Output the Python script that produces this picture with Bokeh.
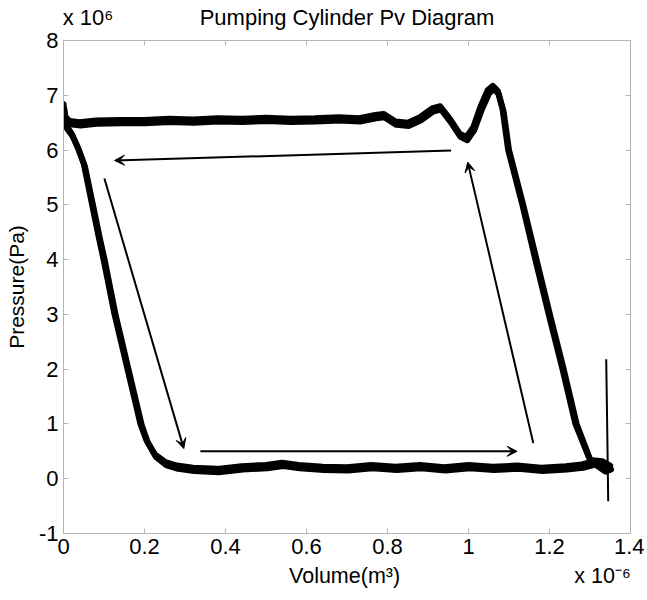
import json
from bokeh.plotting import figure
from bokeh.models import (Range1d, LinearAxis, FixedTicker, NumeralTickFormatter,
                          CustomJSTickFormatter, CustomLabelingPolicy, Arrow, VeeHead,
                          ColumnDataSource)
from bokeh.embed import file_html
from bokeh.resources import INLINE

# ---------------- data (volume in 1e-6 m^3, pressure in 1e6 Pa) ----------------
# cycle 1 (upper edge of the thick band)
V1 = [1.300, 1.264, 1.232, 1.198, 1.165, 1.133, 1.098, 1.084, 1.072, 1.060, 1.048, 1.030,
      1.012, 0.995, 0.978, 0.955, 0.930, 0.910, 0.880, 0.850, 0.820, 0.790, 0.770, 0.730,
      0.680, 0.620, 0.560, 0.500, 0.440, 0.380, 0.320, 0.260, 0.200, 0.140, 0.080, 0.040,
      0.015, 0.003, 0.000, 0.006, 0.020, 0.035, 0.050, 0.068, 0.087, 0.099, 0.126, 0.158,
      0.190, 0.205, 0.225, 0.250, 0.280, 0.320, 0.380, 0.440, 0.500, 0.540, 0.580, 0.640,
      0.700, 0.760, 0.820, 0.880, 0.940, 1.000, 1.060, 1.120, 1.180, 1.240, 1.280, 1.310,
      1.335, 1.350, 1.330, 1.300]
P1 = [0.34, 1.00, 2.00, 3.00, 4.00, 5.00, 6.00, 6.75, 7.08, 7.17, 7.10, 6.80,
      6.42, 6.24, 6.30, 6.56, 6.80, 6.76, 6.60, 6.50, 6.52, 6.66, 6.64, 6.58,
      6.60, 6.58, 6.57, 6.59, 6.57, 6.58, 6.56, 6.57, 6.55, 6.55, 6.54, 6.51,
      6.53, 6.62, 6.84, 6.46, 6.30, 6.05, 5.75, 5.10, 4.41, 4.00, 3.00, 2.00,
      1.00, 0.70, 0.45, 0.31, 0.24, 0.20, 0.18, 0.23, 0.25, 0.29, 0.25, 0.22,
      0.21, 0.25, 0.22, 0.25, 0.21, 0.25, 0.22, 0.24, 0.20, 0.23, 0.26, 0.32,
      0.20, 0.24, 0.32, 0.34]

# cycle 2 (lower edge of the thick band)
V2 = [1.303, 1.267, 1.235, 1.201, 1.168, 1.135, 1.100, 1.087, 1.075, 1.063, 1.051, 1.033,
      1.014, 0.997, 0.980, 0.957, 0.932, 0.912, 0.882, 0.852, 0.822, 0.792, 0.772, 0.732,
      0.682, 0.622, 0.562, 0.502, 0.442, 0.382, 0.322, 0.262, 0.202, 0.142, 0.082, 0.042,
      0.017, 0.005, 0.002, 0.008, 0.023, 0.038, 0.053, 0.071, 0.090, 0.102, 0.129, 0.161,
      0.193, 0.208, 0.228, 0.253, 0.283, 0.323, 0.383, 0.443, 0.503, 0.543, 0.583, 0.643,
      0.703, 0.763, 0.823, 0.883, 0.943, 1.003, 1.063, 1.123, 1.183, 1.243, 1.283, 1.313,
      1.338, 1.352, 1.333, 1.303]
P2 = [0.30, 1.00, 2.00, 3.00, 4.00, 5.00, 6.00, 6.69, 7.02, 7.11, 7.04, 6.74,
      6.36, 6.18, 6.24, 6.50, 6.74, 6.70, 6.54, 6.44, 6.46, 6.60, 6.58, 6.52,
      6.54, 6.52, 6.51, 6.53, 6.51, 6.52, 6.50, 6.51, 6.49, 6.49, 6.48, 6.45,
      6.47, 6.55, 6.75, 6.40, 6.25, 6.00, 5.70, 5.06, 4.38, 3.98, 2.98, 1.98,
      0.98, 0.66, 0.40, 0.25, 0.18, 0.14, 0.12, 0.17, 0.19, 0.23, 0.19, 0.16,
      0.15, 0.19, 0.16, 0.19, 0.15, 0.19, 0.16, 0.18, 0.14, 0.17, 0.20, 0.26,
      0.13, 0.17, 0.25, 0.30]

# thin pressure spike at the end of the stroke
V_spike = [1.340, 1.342, 1.345]
P_spike = [2.18, 1.20, -0.41]

# direction arrows of the cycle (start -> end)
arrow_x0 = [0.957, 0.101, 0.338, 1.160]
arrow_y0 = [5.99, 5.48, 0.50, 0.65]
arrow_x1 = [0.126, 0.297, 1.120, 0.998]
arrow_y1 = [5.81, 0.55, 0.50, 5.78]

x_ticks = [0, 0.2, 0.4, 0.6, 0.8, 1.0, 1.2, 1.4]
y_ticks = [-1, 0, 1, 2, 3, 4, 5, 6, 7, 8]

# texts above the frame: exponent of the y axis and the title (centre positions)
top_text_pos = [0.0605, 0.700]
top_texts = ["x 10\u2076", "Pumping Cylinder Pv Diagram"]
# texts below the tick labels: x axis title and exponent of the x axis
bottom_text_pos = [0.694, 1.331]
bottom_texts = ["Volume(m\u00b3)", "x 10\u207b\u2076"]
y_label = "Pressure(Pa)"

# ---------------- figure ----------------
FONT = "Liberation Sans"
FRAME = "#b4b4b4"

p = figure(frame_width=567, frame_height=493,
           x_range=Range1d(0, 1.4), y_range=Range1d(-1, 8),
           output_backend="svg", toolbar_location=None,
           min_border_left=63, min_border_top=40, min_border_right=14,
           min_border_bottom=64)
p.background_fill_color = "white"
p.border_fill_color = "white"
p.outline_line_color = FRAME
p.grid.visible = False

bottom_ax = p.below[0]
left_ax = p.left[0]

bottom_ax.ticker = FixedTicker(ticks=x_ticks)
left_ax.ticker = FixedTicker(ticks=y_ticks)
bottom_ax.formatter = NumeralTickFormatter(format="0.[0]")
left_ax.formatter = NumeralTickFormatter(format="0")
left_ax.axis_label = y_label

# top / right axes carrying only the inward tick marks of the box (no labels)
no_labels = CustomLabelingPolicy(code="return new Set()")
top_tick_ax = LinearAxis(ticker=FixedTicker(ticks=x_ticks), major_label_policy=no_labels,
                         major_label_text_font_size="0px", major_label_standoff=0)
right_ax = LinearAxis(ticker=FixedTicker(ticks=y_ticks), major_label_policy=no_labels,
                      major_label_text_font_size="0px", major_label_standoff=0)
# label-only axes for the title / exponents and the x title
top_lab_ax = LinearAxis(
    ticker=FixedTicker(ticks=top_text_pos),
    formatter=CustomJSTickFormatter(
        code="const labels = %s; return labels[index];" % json.dumps(top_texts)))
bottom_lab_ax = LinearAxis(
    ticker=FixedTicker(ticks=bottom_text_pos),
    formatter=CustomJSTickFormatter(
        code="const labels = %s; return labels[index];" % json.dumps(bottom_texts)))

p.add_layout(top_tick_ax, "above")
p.add_layout(top_lab_ax, "above")
p.add_layout(right_ax, "right")
p.add_layout(bottom_lab_ax, "below")

for ax in [bottom_ax, left_ax, top_tick_ax, right_ax, top_lab_ax, bottom_lab_ax]:
    ax.axis_line_color = FRAME
    ax.major_tick_line_color = FRAME
    ax.major_tick_in = 5
    ax.major_tick_out = 0
    ax.minor_tick_line_color = None
    ax.major_label_text_font = FONT
    ax.major_label_text_color = "black"
    ax.axis_label_text_font = FONT
    ax.axis_label_text_font_style = "normal"
    ax.axis_label_text_color = "black"
    ax.axis_label_text_font_size = "21px"

for ax in [bottom_ax, left_ax]:
    ax.major_label_text_font_size = "22px"
    ax.major_label_standoff = 5
left_ax.axis_label_standoff = 8

for ax in [top_lab_ax, bottom_lab_ax]:
    ax.axis_line_color = None
    ax.major_tick_line_color = None
top_lab_ax.major_label_text_font_size = "22px"
top_lab_ax.major_label_standoff = 11
bottom_lab_ax.major_label_text_font_size = "21.5px"
bottom_lab_ax.major_label_standoff = 7

# ---------------- curves ----------------
p.line(V1, P1, line_color="black", line_width=6, line_join="round")
p.line(V2, P2, line_color="black", line_width=6, line_join="round")
p.line(V_spike, P_spike, line_color="black", line_width=2)

src = ColumnDataSource(dict(x0=arrow_x0, y0=arrow_y0, x1=arrow_x1, y1=arrow_y1))
p.add_layout(Arrow(x_start="x0", y_start="y0", x_end="x1", y_end="y1", source=src,
                   line_color="black", line_width=2,
                   end=VeeHead(size=10, fill_color="black", line_color="black", line_width=1)))

open("out.html", "w").write(file_html(p, INLINE))
